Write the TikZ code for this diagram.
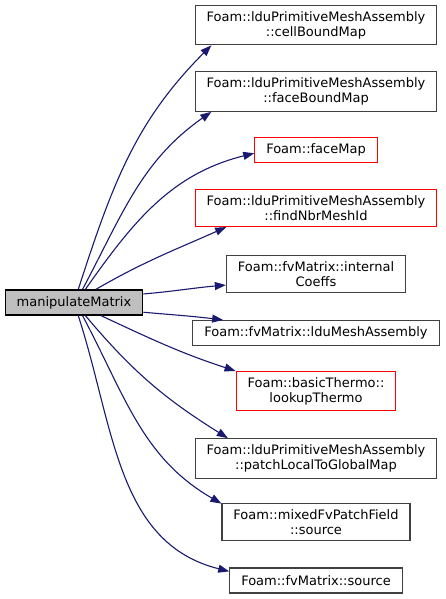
\documentclass[tikz,border=0pt]{standalone}
\usepackage{fontspec}
\setmainfont{DejaVu Sans}
\usetikzlibrary{arrows.meta}
\definecolor{edgeblue}{HTML}{191970}
\definecolor{rootfill}{HTML}{BFBFBF}
\definecolor{boxline}{HTML}{404040}

\begin{document}
\begin{tikzpicture}[x=1pt, y=1pt,
  every node/.style={font=\fontsize{13}{15}\selectfont},
  fn/.style={draw=boxline, fill=white, rectangle, align=center, inner xsep=11.5pt, inner ysep=6pt, minimum height=25pt, line width=1.1pt},
  fnred/.style={fn, draw=red},
  calls/.style={-{Triangle[length=11pt,width=8pt]}, edgeblue, line width=1.1pt}]
  \useasboundingbox (0,0) rectangle (445,599);
  % caller
  \node[fn, fill=rootfill, draw=black] (mm) at (74,296.5) {manipulateMatrix};
  % callees
  \node[fn] (cbm) at (316,574) {Foam::lduPrimitiveMeshAssembly\\::cellBoundMap};
  \node[fn] (fbm) at (316,507.5) {Foam::lduPrimitiveMeshAssembly\\::faceBoundMap};
  \node[fnred] (fm) at (316,449) {Foam::faceMap};
  \node[fnred] (fnm) at (316,391) {Foam::lduPrimitiveMeshAssembly\\::findNbrMeshId};
  \node[fn] (ic) at (316,325) {Foam::fvMatrix::internal\\Coeffs};
  \node[fn] (lma) at (316,266) {Foam::fvMatrix::lduMeshAssembly};
  \node[fnred] (lt) at (316,208) {Foam::basicThermo::\\lookupThermo};
  \node[fn] (plg) at (316,140.5) {Foam::lduPrimitiveMeshAssembly\\::patchLocalToGlobalMap};
  \node[fn] (mps) at (316,77) {Foam::mixedFvPatchField\\::source};
  \node[fn] (fvs) at (316,18.5) {Foam::fvMatrix::source};
  % call edges
  \draw[calls] (mm.72) to[out=72, in=225] (cbm.191);
  \draw[calls] (mm.57) to[out=62, in=215] (fbm.191.5);
  \draw[calls] (mm.49) to[out=55, in=194] (fm.183);
  \draw[calls] (mm.31) to[out=30, in=204] (fnm.192.7);
  \draw[calls] (mm.7) to[out=5, in=185] (ic.187);
  \draw[calls] (mm.-8) to[out=-5, in=173] (lma.172.8);
  \draw[calls] (mm.-26) to[out=-25, in=162] (lt.166.5);
  \draw[calls] (mm.-49) to[out=-50, in=148] (plg.167);
  \draw[calls] (mm.-57) to[out=-62, in=150] (mps.169.6);
  \draw[calls] (mm.-72) to[out=-72, in=166] (fvs.174.4);
\end{tikzpicture}
\end{document}
